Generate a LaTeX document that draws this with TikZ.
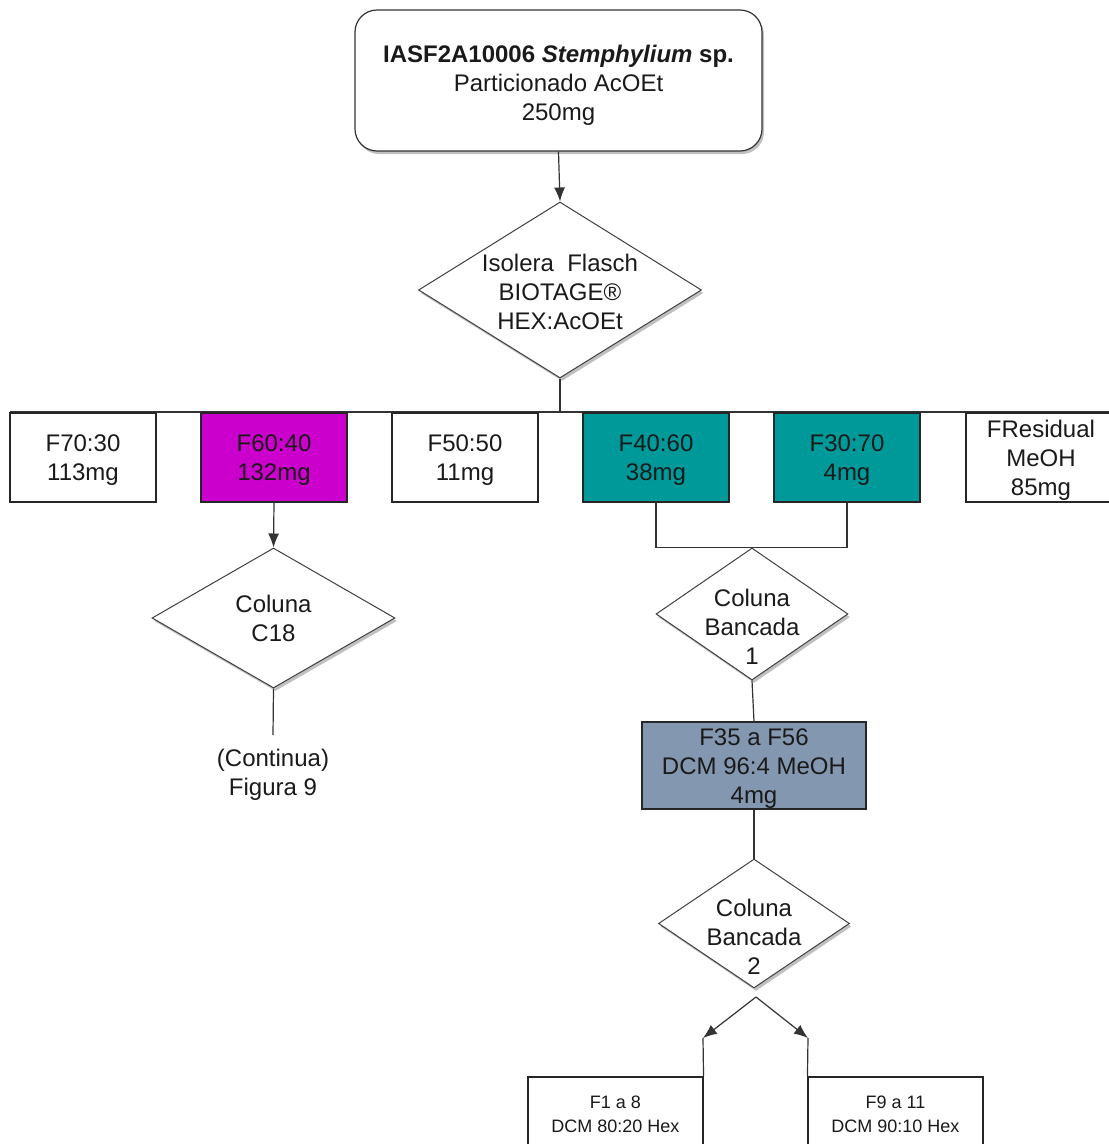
\documentclass[tikz,border=0pt]{standalone}
\usepackage{fontspec}
\setmainfont{Liberation Sans}
\usetikzlibrary{shapes.geometric,arrows.meta,shadows}
\definecolor{txt}{HTML}{1A1A1A}
\definecolor{mag}{HTML}{CC00CC}
\definecolor{teal2}{HTML}{009999}
\definecolor{slate}{HTML}{8497B0}
\tikzset{
  base/.style={font=\fontsize{24}{29}\selectfont, text=txt, align=center},
  sh/.style={drop shadow={shadow xshift=2pt, shadow yshift=-3pt, opacity=0.35, fill=black!70}},
  boxed/.style={draw=black!85, line width=1.1pt, inner sep=0pt},
  frac/.style={boxed, minimum width=146, minimum height=89, fill=white},
  txtc/.style={label={[base, yshift=-3pt]center:#1}},
  dia/.style={diamond, draw=black!75, line width=1pt, fill=white, inner sep=0pt, sh},
  conn/.style={draw=black!80, line width=1.2pt},
  arr/.style={conn, -{Latex[length=14pt,width=11pt]}},
  small/.style={font=\fontsize{18}{24}\selectfont, text=txt, align=center}
}
\begin{document}
\begin{tikzpicture}[x=1pt,y=-1pt]
\useasboundingbox (0,0) rectangle (1109,1144);
\clip (0,0) rectangle (1109,1144);
\fill[white] (0,0) rectangle (1109,1144);

% top box
\node[draw=black!80, line width=1.2pt, rounded corners=22pt, fill=white, sh,
      minimum width=407, minimum height=141, inner sep=0pt,
      label={[base, yshift=-5pt]center:\textbf{IASF2A10006 \textit{Stemphylium} sp.}\\Particionado AcOEt\\250mg}] (top) at (558.5,80.5) {};

% diamond 1
\node[dia, minimum width=283, minimum height=176,
      label={[base, yshift=-2pt]center:Isolera\ \ Flasch\\BIOTAGE®\\HEX:AcOEt}] (d1) at (560,290) {};
\draw[arr] (top.south) -- (d1.north);

% horizontal bus
\coordinate (busL) at (10,412);
\coordinate (busR) at (1109,412);
\coordinate (busM) at (560,412);
\draw[conn] (busL) -- (busR);
\draw[conn] (d1.south) -- (busM);

% fraction boxes
\node[frac, txtc={F70:30\\113mg}] (f70) at (83,457.5) {};
\node[frac, fill=mag, txtc={F60:40\\132mg}] (f60) at (274,457.5) {};
\node[frac, txtc={F50:50\\11mg}] (f50) at (465,457.5) {};
\node[frac, fill=teal2, txtc={F40:60\\38mg}] (f40) at (656,457.5) {};
\node[frac, fill=teal2, txtc={F30:70\\4mg}] (f30) at (847,457.5) {};
\node[frac, minimum width=150, txtc={FResidual\\MeOH\\85mg}] (fres) at (1041,457.5) {};

% C18 branch
\node[dia, minimum width=243, minimum height=140,
      label={[base]center:Coluna\\C18}] (c18) at (273.5,618) {};
\draw[arr] (f60.south) -- (c18.north);
\node[base, inner sep=0pt] (cont) at (273,775) {(Continua)\\Figura 9};
\draw[conn] (c18.south) -- (273,735);

% Bancada 1
\node[dia, minimum width=192, minimum height=132] (b1) at (752,614) {};
\node[base] (b1t) at (752,627) {Coluna\\Bancada\\1};
\draw[conn] (f40.south) -- ++(0,45) -| (f30.south);

\node[boxed, fill=slate, minimum width=224, minimum height=87, txtc={F35 a F56\\DCM 96:4 MeOH\\4mg}]
  (f35) at (754,765.5) {};
\draw[conn] (b1.south) -- (f35.north);

% Bancada 2
\node[dia, minimum width=191, minimum height=129] (b2) at (754,923.5) {};
\node[base] (b2t) at (754,937) {Coluna\\Bancada\\2};
\draw[conn] (f35.south) -- (b2.north);

% bottom split
\coordinate (apex) at (756,997);
\coordinate (aL) at (703,1038);
\coordinate (aR) at (808,1038);
\node[small, boxed, fill=white, minimum width=175, minimum height=74]
  (fa) at (615.5,1114) {F1 a 8\\DCM 80:20 Hex};
\node[small, boxed, fill=white, minimum width=175, minimum height=74]
  (fb) at (895.5,1114) {F9 a 11\\DCM 90:10 Hex};
\draw[arr] (apex) -- (aL);
\draw[arr] (apex) -- (aR);
\draw[conn] (aL) -- (fa.north east);
\draw[conn] (aR) -- (fb.north west);
\end{tikzpicture}
\end{document}
